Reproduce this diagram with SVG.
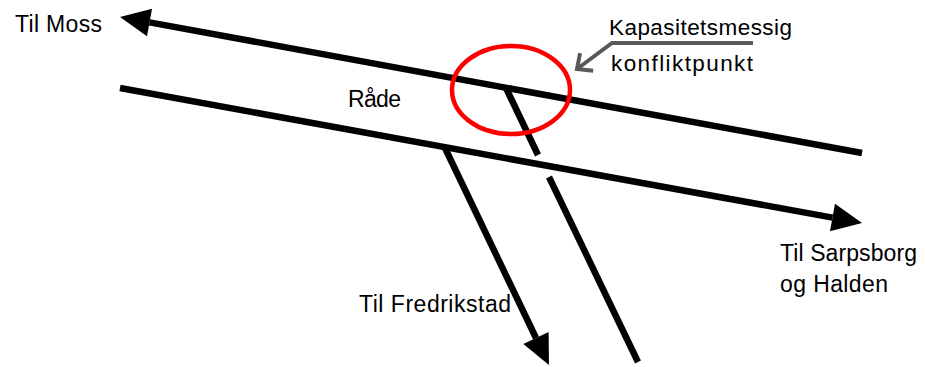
<svg xmlns="http://www.w3.org/2000/svg" width="925" height="367" viewBox="0 0 925 367">
<style>
.track{fill:none;stroke:#000;stroke-width:6.5;stroke-linecap:butt}
.lbl{font-family:"Liberation Sans",Arial,sans-serif;font-size:23px;fill:#000}
.call{font-family:"Liberation Sans",Arial,sans-serif;font-size:22.5px;fill:#000}
.ring{fill:none;stroke:#ff0000;stroke-width:4.5}
.pointer{fill:none;stroke:#595959;stroke-width:4;stroke-linejoin:miter}
</style>
<defs>
<marker id="head" markerUnits="userSpaceOnUse" markerWidth="32" markerHeight="30" viewBox="0 -15 32 30" refX="0" refY="0" orient="auto" overflow="visible">
<path d="M0,-14 L30,0 L0,14 z" fill="#000"/>
</marker>
<marker id="open" markerUnits="userSpaceOnUse" markerWidth="20" markerHeight="24" viewBox="-16 -12 20 24" refX="0" refY="0" orient="auto" overflow="visible">
<path d="M-12,-11 L0,0 L-12,11" fill="none" stroke="#595959" stroke-width="4"/>
</marker>
</defs>
<g id="connectors">
<line id="line-moss" class="track" x1="862" y1="153" x2="149.5" y2="22.4" marker-end="url(#head)"/>
<line id="line-sarpsborg" class="track" x1="120" y1="88" x2="832.5" y2="217.6" marker-end="url(#head)"/>
<line id="line-fredrikstad" class="track" x1="445" y1="148" x2="536" y2="338" marker-end="url(#head)"/>
<line id="line-branch-a" class="track" x1="506" y1="88" x2="538" y2="155"/>
<line id="line-branch-b" class="track" x1="549" y1="177" x2="638" y2="362"/>
<polyline id="callout-pointer" class="pointer" points="753,43 612,43 577,69" marker-end="url(#open)"/>
</g>
<g id="conflict-point">
<ellipse class="ring" cx="511" cy="90" rx="59" ry="44"/>
</g>
<g id="label-moss"><text class="lbl" x="15" y="32" textLength="87">Til Moss</text></g>
<g id="label-rade"><text class="lbl" x="348" y="107" textLength="53">Råde</text></g>
<g id="label-callout">
<text class="call" x="609" y="35" textLength="183">Kapasitetsmessig</text>
<text class="call" x="611" y="71" textLength="142">konfliktpunkt</text>
</g>
<g id="label-sarpsborg">
<text class="lbl" x="780" y="261" textLength="137">Til Sarpsborg</text>
<text class="lbl" x="780" y="292" textLength="108">og Halden</text>
</g>
<g id="label-fredrikstad"><text class="lbl" x="359" y="312" textLength="152">Til Fredrikstad</text></g>
</svg>
